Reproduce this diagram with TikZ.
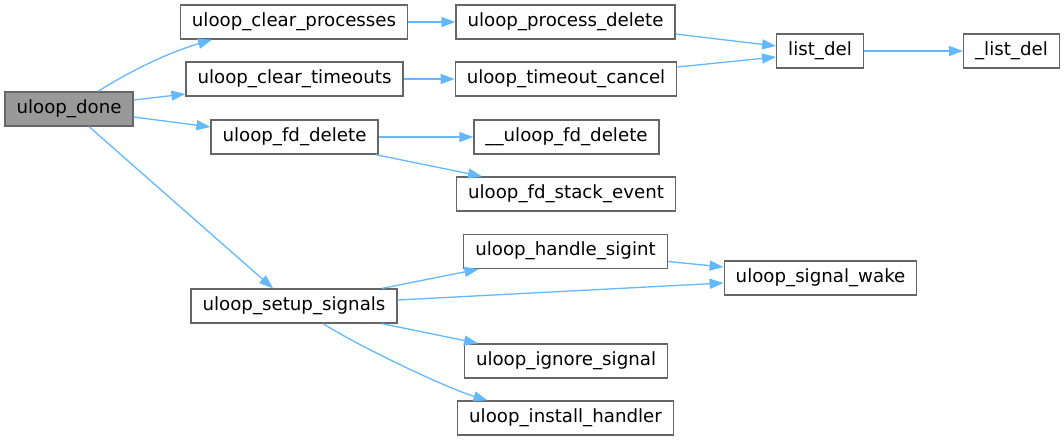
\documentclass[tikz,border=0pt]{standalone}
\usepackage{fontspec}
\setmainfont{DejaVu Sans}
\usetikzlibrary{arrows.meta}
\definecolor{edgeblue}{HTML}{63B8FF}
\definecolor{boxgray}{HTML}{666666}
\definecolor{curfill}{HTML}{999999}
\tikzset{
    func/.style={draw=boxgray, fill=white, rectangle, line width=1.3pt, inner xsep=11.5pt, inner ysep=0pt, minimum height=34pt, text height=13pt, text depth=4.5pt, font=\fontsize{18.2}{22}\selectfont},
    current/.style={func, fill=curfill},
    call/.style={-{Triangle[length=14pt, width=10pt]}, line width=1.3pt, draw=edgeblue}
}

\begin{document}
\begin{tikzpicture}[x=1pt, y=-1pt]
        \useasboundingbox (0,0) rectangle (1064,440);

        % -----------------------------------------------------------------
        % FUNZIONI
        % -----------------------------------------------------------------
        \node[current] (done) at (69,109) {uloop\_done};

        \node[func] (clearproc) at (294,22) {uloop\_clear\_processes};
        \node[func] (cleartimeo) at (294.5,79) {uloop\_clear\_timeouts};
        \node[func] (fddelete) at (294.5,137) {uloop\_fd\_delete};
        \node[func] (setupsig) at (294,306) {uloop\_setup\_signals};

        \node[func] (procdelete) at (565.5,22) {uloop\_process\_delete};
        \node[func] (timeocancel) at (566,79) {uloop\_timeout\_cancel};
        \node[func] (ufddelete) at (566.5,137) {\_\_uloop\_fd\_delete};
        \node[func] (fdstack) at (566,194) {uloop\_fd\_stack\_event};
        \node[func] (handlesigint) at (565.5,251.5) {uloop\_handle\_sigint};
        \node[func] (ignoresig) at (566,361) {uloop\_ignore\_signal};
        \node[func] (installh) at (565.5,418) {uloop\_install\_handler};

        \node[func] (listdel) at (820,51) {list\_del};
        \node[func] (ulistdel) at (1011.5,51) {\_list\_del};
        \node[func] (sigwake) at (820.5,278) {uloop\_signal\_wake};

        % -----------------------------------------------------------------
        % CHIAMATE
        % -----------------------------------------------------------------
        \draw[call] ([xshift=29pt]done.north) .. controls +(40,-25) and +(-40,12) .. ([xshift=-82pt]clearproc.south);
        \draw[call] ([yshift=9pt]done.east) -- ([yshift=-15pt]cleartimeo.west);
        \draw[call] ([yshift=-8pt]done.east) -- ([yshift=10pt]fddelete.west);
        \draw[call] ([xshift=20pt]done.south) -- ([xshift=-21pt]setupsig.north);

        \draw[call] (clearproc) -- (procdelete);
        \draw[call] (cleartimeo) -- (timeocancel);
        \draw[call] (fddelete) -- (ufddelete);
        \draw[call] ([xshift=-3pt]fddelete.south east) -- ([xshift=-84pt]fdstack.north);

        \draw[call] ([yshift=-12pt]procdelete.east) -- ([yshift=5pt]listdel.west);
        \draw[call] ([yshift=12pt]timeocancel.east) -- ([yshift=-6pt]listdel.west);
        \draw[call] (listdel) -- (ulistdel);

        \draw[call] ([xshift=88pt]setupsig.north) -- ([xshift=-87pt]handlesigint.south);
        \draw[call] ([yshift=6pt]setupsig.east) -- ([yshift=-5pt]sigwake.west);
        \draw[call] ([yshift=-10pt]handlesigint.east) -- ([yshift=11pt]sigwake.west);
        \draw[call] ([xshift=88pt]setupsig.south) -- ([xshift=-88pt]ignoresig.north);
        \draw[call] ([xshift=29pt]setupsig.south) .. controls +(40,25) and +(-40,-12) .. ([xshift=-78pt]installh.north);

    \end{tikzpicture}
\end{document}
